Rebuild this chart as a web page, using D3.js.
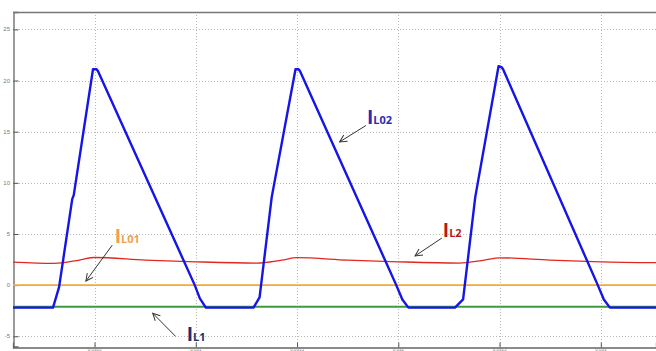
<!DOCTYPE html>
<html>
<head>
<meta charset="utf-8">
<script src="https://cdnjs.cloudflare.com/ajax/libs/d3/7.8.5/d3.min.js"></script>
<style>
  html, body { margin: 0; padding: 0; background: #fff; }
  svg { display: block; }
</style>
</head>
<body>
<div id="chart"></div>
<script>
// ---- data (time in half-period units, current in A) ----
const yTicks = [-5, 0, 5, 10, 15, 20, 25];
const xTicks = [0, 1, 2, 3, 4, 5];
const xTickLabels = ["0.0305", "0.031", "0.0315", "0.032", "0.0325", "0.033"];

// IL02 - blue
const iL02 = [
  [-0.805, -2.2], [-0.41, -2.2], [-0.35, -0.2], [-0.22, 8.4], [-0.205, 8.8],
  [-0.015, 21.1], [0.02, 21.1], [0.035, 20.9], [0.99, 0.0], [1.04, -1.3], [1.10, -2.2],
  [1.57, -2.2], [1.63, -1.2], [1.75, 8.6], [1.985, 21.1], [2.015, 21.1], [2.03, 20.9],
  [2.98, 0.0], [3.04, -1.4], [3.10, -2.2],
  [3.56, -2.2], [3.64, -1.4], [3.76, 8.6], [3.99, 21.4], [4.02, 21.3], [4.035, 21.1],
  [4.97, 0.0], [5.03, -1.4], [5.09, -2.2], [5.545, -2.2]
];
// IL2 - red
const iL2 = [
  [-0.805, 2.25], [-0.4, 2.13], [-0.15, 2.45], [0.0, 2.7], [0.5, 2.45], [1.0, 2.28],
  [1.6, 2.16], [1.85, 2.45], [2.0, 2.68], [2.5, 2.45], [3.0, 2.28],
  [3.6, 2.16], [3.85, 2.45], [4.0, 2.67], [4.5, 2.45], [5.0, 2.28], [5.545, 2.2]
];
// IL01 - orange
const iL01 = [[-0.805, 0.0], [5.545, 0.0]];
// IL1 - green
const iL1 = [[-0.805, -2.12], [5.545, -2.12]];

// labels: main letter, subscript, text anchor (t,v), arrow from / to (t,v)
const labels = [
  { main: "I", sub: "L02", t: 2.69, v: 15.8, from: [2.68, 15.6], to: [2.42, 14.0], color: "#2a2ab8" },
  { main: "I", sub: "L2",  t: 3.44, v: 4.7,  from: [3.43, 4.6],  to: [3.165, 2.85], color: "#b21c1c" },
  { main: "I", sub: "L01", t: 0.20, v: 4.1,  from: [0.175, 3.9], to: [-0.085, 0.4], color: "#f0a050" },
  { main: "I", sub: "L1",  t: 0.91, v: -5.5, from: [0.80, -5.0], to: [0.575, -2.75], color: "#1a2f6e" }
];

// ---- chart ----
const W = 656, H = 351;
const svg = d3.select("#chart").append("svg")
  .attr("width", W).attr("height", H);

const x = d3.scaleLinear().domain([-0.805, 5.545]).range([13, 656]);
const y = d3.scaleLinear().domain([-6, 26.7]).range([346.5, 12]);

// grid
svg.append("g").selectAll("line").data(yTicks).join("line")
  .attr("x1", x(-0.805)).attr("x2", W)
  .attr("y1", d => Math.round(y(d)) + 0.5).attr("y2", d => Math.round(y(d)) + 0.5)
  .attr("stroke", "#b8b8b8").attr("stroke-dasharray", "1,2");
svg.append("g").selectAll("line").data(xTicks).join("line")
  .attr("x1", d => Math.round(x(d)) + 0.5).attr("x2", d => Math.round(x(d)) + 0.5)
  .attr("y1", y(26.7)).attr("y2", y(-6))
  .attr("stroke", "#b8b8b8").attr("stroke-dasharray", "1,2");

// axes
const yAxis = svg.append("g")
  .attr("transform", "translate(" + (x(-0.805) + 0.5) + ",0)")
  .call(d3.axisRight(y).tickValues(yTicks).tickSize(5).tickFormat(""));
const xAxis = svg.append("g")
  .attr("transform", "translate(0," + (Math.round(y(-6)) + 0.5) + ")")
  .call(d3.axisTop(x).tickValues(xTicks).tickSize(5).tickFormat(""));
[yAxis, xAxis].forEach(a => {
  a.select(".domain").attr("stroke", "#666").attr("stroke-width", 1.3);
  a.selectAll(".tick line").attr("stroke", "#555");
});
// top border
svg.append("line")
  .attr("x1", x(-0.805)).attr("x2", W)
  .attr("y1", y(26.7) + 0.5).attr("y2", y(26.7) + 0.5)
  .attr("stroke", "#777").attr("stroke-width", 1.3);

// tick labels
svg.append("g").selectAll("text").data(yTicks).join("text")
  .attr("x", 10).attr("y", d => y(d) + 2)
  .attr("text-anchor", "end")
  .attr("font-family", "Liberation Sans, Arial, sans-serif")
  .attr("font-size", 6).attr("fill", "#777")
  .text(d => d);
svg.append("g").selectAll("text").data(xTicks).join("text")
  .attr("x", d => x(d)).attr("y", 351)
  .attr("text-anchor", "middle")
  .attr("font-family", "Liberation Sans, Arial, sans-serif")
  .attr("font-size", 4.5).attr("fill", "#888")
  .text((d, i) => xTickLabels[i]);

// series
const line = d3.line().x(d => x(d[0])).y(d => y(d[1]));
const smooth = d3.line().x(d => x(d[0])).y(d => y(d[1])).curve(d3.curveMonotoneX);

svg.append("path").datum(iL01).attr("d", line)
  .attr("fill", "none").attr("stroke", "#f5a833").attr("stroke-width", 1.7);
svg.append("path").datum(iL1).attr("d", line)
  .attr("fill", "none").attr("stroke", "#3c9a40").attr("stroke-width", 2);
svg.append("path").datum(iL2).attr("d", smooth)
  .attr("fill", "none").attr("stroke", "#e0281e").attr("stroke-width", 1.3);
svg.append("path").datum(iL02).attr("d", line)
  .attr("fill", "none").attr("stroke", "#1515e8").attr("stroke-width", 2.4)
  .attr("stroke-linejoin", "round");

// annotations
svg.append("defs").append("marker")
  .attr("id", "arr").attr("viewBox", "0 0 10 10")
  .attr("refX", 9).attr("refY", 5)
  .attr("markerWidth", 9).attr("markerHeight", 9)
  .attr("orient", "auto")
  .append("path").attr("d", "M1,1 L9,5 L1,9")
  .attr("fill", "none").attr("stroke", "#333").attr("stroke-width", 1.1);

labels.forEach(l => {
  svg.append("line")
    .attr("x1", x(l.from[0])).attr("y1", y(l.from[1]))
    .attr("x2", x(l.to[0])).attr("y2", y(l.to[1]))
    .attr("stroke", "#333").attr("stroke-width", 1)
    .attr("marker-end", "url(#arr)");
  const t = svg.append("text")
    .attr("x", x(l.t)).attr("y", y(l.v))
    .attr("font-family", "Open Sans, sans-serif")
    .attr("font-weight", "bold")
    .attr("fill", l.color);
  t.append("tspan").attr("font-size", 19).text(l.main);
  t.append("tspan").attr("font-size", 11).text(l.sub);
});
</script>
</body>
</html>
